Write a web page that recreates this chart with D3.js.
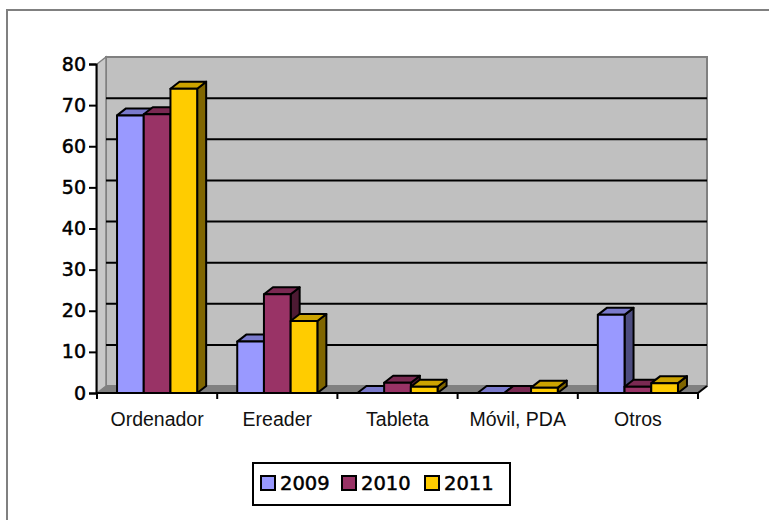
<!DOCTYPE html>
<html>
<head>
<meta charset="utf-8">
<title>dispositivos</title>
<script src="https://cdn.jsdelivr.net/npm/d3@7"></script>
<style>
  body { margin: 0; background: #fff; }
</style>
</head>
<body>
<svg width="769" height="520"></svg>
<script>
  // datos
  var categories = ["Ordenador", "Ereader", "Tableta", "Móvil, PDA", "Otros"];
  var years = ["2009", "2010", "2011"];
  var v2009 = [67.5, 12.5, 0, 0, 19];
  var v2010 = [67.8, 24, 2.5, 0, 1.5];
  var v2011 = [74, 17.5, 1.5, 1.3, 2.4];
  var yTicks = [0, 10, 20, 30, 40, 50, 60, 70, 80];

  var series = [v2009, v2010, v2011];
  var front = ["#9999FF", "#993366", "#FFCC00"];
  var topC = ["#7a7acc", "#7a2952", "#cca300"];
  var sideC = ["#4d4d80", "#4d1a33", "#806600"];

  var svg = d3.select("svg");
  // profundidad 3D
  var dx = 9, dy = -7;

  var x = d3.scaleBand().domain(categories).range([97, 698]);
  var xs = d3.scaleBand().domain(years).range([0, x.bandwidth()]).paddingOuter(0.75);
  var y = d3.scaleLinear().domain([0, 80]).range([393, 64]);

  // marco exterior
  svg.append("rect")
    .attr("x", 7).attr("y", 10).attr("width", 800).attr("height", 600)
    .attr("fill", "white").attr("stroke", "#808080").attr("stroke-width", 2);

  var x0 = x.range()[0], x1 = x.range()[1];
  var yTop = y(80), yBot = y(0);

  // pared del fondo
  svg.append("rect")
    .attr("x", x0 + dx).attr("y", yTop + dy)
    .attr("width", x1 - x0).attr("height", yBot - yTop)
    .attr("fill", "#c0c0c0").attr("stroke", "#808080").attr("stroke-width", 2);

  // pared lateral
  svg.append("polygon")
    .attr("points", [[x0, yTop], [x0 + dx, yTop + dy], [x0 + dx, yBot + dy], [x0, yBot]].join(" "))
    .attr("fill", "#c8c8c8").attr("stroke", "#808080").attr("stroke-width", 1.5);

  // suelo
  svg.append("polygon")
    .attr("points", [[x0, yBot], [x0 + dx, yBot + dy], [x1 + dx, yBot + dy], [x1, yBot]].join(" "))
    .attr("fill", "#808080");
  svg.append("line")
    .attr("x1", x1).attr("y1", yBot).attr("x2", x1 + dx).attr("y2", yBot + dy)
    .attr("stroke", "black").attr("stroke-width", 2);

  // lineas de division
  svg.append("g")
    .selectAll("line")
    .data(yTicks.filter(function (d) { return d > 0 && d < 80; }))
    .enter()
    .append("line")
    .attr("x1", x0 + dx).attr("x2", x1 + dx)
    .attr("y1", function (d) { return y(d) + dy; })
    .attr("y2", function (d) { return y(d) + dy; })
    .attr("stroke", "black").attr("stroke-width", 2);

  // barras, de izquierda a derecha
  var bars = [];
  categories.forEach(function (c, i) {
    years.forEach(function (yr, j) {
      bars.push({ cat: c, s: j, v: series[j][i] });
    });
  });

  var w = xs.bandwidth();
  var gb = svg.append("g")
    .selectAll("g")
    .data(bars)
    .enter()
    .append("g")
    .attr("stroke", "black").attr("stroke-width", 2).attr("stroke-linejoin", "round");

  gb.append("polygon")
    .attr("points", function (d) {
      var bx = x(d.cat) + xs(years[d.s]), by = y(d.v);
      return [[bx + w, by], [bx + w + dx, by + dy], [bx + w + dx, yBot + dy], [bx + w, yBot]].join(" ");
    })
    .attr("fill", function (d) { return sideC[d.s]; });

  gb.append("polygon")
    .attr("points", function (d) {
      var bx = x(d.cat) + xs(years[d.s]), by = y(d.v);
      return [[bx, by], [bx + dx, by + dy], [bx + w + dx, by + dy], [bx + w, by]].join(" ");
    })
    .attr("fill", function (d) { return topC[d.s]; });

  gb.append("rect")
    .attr("x", function (d) { return x(d.cat) + xs(years[d.s]); })
    .attr("y", function (d) { return y(d.v); })
    .attr("width", w)
    .attr("height", function (d) { return yBot - y(d.v); })
    .attr("fill", function (d) { return front[d.s]; });

  // eje Y
  var ay = svg.append("g")
    .attr("transform", "translate(" + (x0 - 1) + ",0)")
    .call(d3.axisLeft(y).tickValues(yTicks).tickSize(7).tickPadding(3));
  ay.select(".domain").attr("stroke", "black").attr("stroke-width", 2);
  ay.selectAll(".tick line").attr("stroke", "black").attr("stroke-width", 2);
  ay.selectAll(".tick text")
    .attr("font-family", "DejaVu Sans").attr("font-size", 19)
    .attr("fill", "black").attr("stroke", "black").attr("stroke-width", 0.5);

  // eje X
  svg.append("line")
    .attr("x1", x0 - 1).attr("x2", x1).attr("y1", yBot).attr("y2", yBot)
    .attr("stroke", "black").attr("stroke-width", 2);
  var bounds = categories.map(function (c) { return x(c); }).concat([x1]);
  svg.append("g")
    .selectAll("line")
    .data(bounds)
    .enter()
    .append("line")
    .attr("x1", function (d) { return d; }).attr("x2", function (d) { return d; })
    .attr("y1", yBot).attr("y2", yBot + 6)
    .attr("stroke", "black").attr("stroke-width", 2);

  svg.append("g")
    .selectAll("text")
    .data(categories)
    .enter()
    .append("text")
    .attr("x", function (d) { return x(d) + x.bandwidth() / 2; })
    .attr("y", 426)
    .attr("text-anchor", "middle")
    .attr("font-family", "Liberation Sans").attr("font-size", 19.5)
    .attr("fill", "#111")
    .text(function (d) { return d; });

  // leyenda
  var leg = svg.append("g");
  leg.append("rect")
    .attr("x", 253).attr("y", 463).attr("width", 257).attr("height", 42)
    .attr("fill", "white").attr("stroke", "black").attr("stroke-width", 2);
  var legX = [261, 342, 425];
  var li = leg.selectAll("g.item")
    .data(years)
    .enter()
    .append("g")
    .attr("transform", function (d, i) { return "translate(" + legX[i] + ",476)"; });
  li.append("rect")
    .attr("width", 14).attr("height", 14)
    .attr("fill", function (d, i) { return front[i]; })
    .attr("stroke", "black").attr("stroke-width", 2);
  li.append("text")
    .attr("x", 19).attr("y", 14)
    .attr("font-family", "DejaVu Sans").attr("font-size", 19.5)
    .attr("fill", "black").attr("stroke", "black").attr("stroke-width", 0.5)
    .text(function (d) { return d; });
</script>
</body>
</html>
